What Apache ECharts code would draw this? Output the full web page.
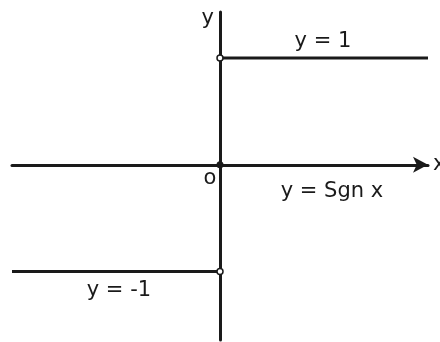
<!DOCTYPE html>
<html>
<head>
<meta charset="utf-8">
<script src="https://cdn.jsdelivr.net/npm/echarts@6/dist/echarts.min.js"></script>
<style>
  html, body { margin: 0; padding: 0; background: #fff; }
  #chart { width: 440px; height: 342px; }
</style>
</head>
<body>
<div id="chart"></div>
<script>
// sgn x: the two horizontal pieces
const upperPiece = [[0, 1], [1, 1]];
const lowerPiece = [[-1, -1], [0, -1]];
// endpoints: open at x = 0 for both pieces, filled at the origin
const openPoints = [[0, 1], [0, -1]];
const filledPoints = [[0, 0]];
// annotations [x, y, text]
const notes = [
    [0.495, 1.15, 'y = 1'],
    [0.538, -0.252, 'y = Sgn x'],
    [-0.048, -0.125, 'o'],
    [-0.486, -1.178, 'y = -1']
];

const ink = '#1a1a1a';
const font = 'DejaVu Sans';
const chart = echarts.init(document.getElementById('chart'));

chart.setOption({
    animation: false,
    grid: { left: 12, right: 12, top: 12, bottom: 2, outerBoundsMode: 'none', containLabel: false },
    xAxis: {
        type: 'value',
        min: -1,
        max: 1,
        name: 'x',
        nameGap: 5,
        nameTextStyle: { fontFamily: font, fontSize: 21, color: ink },
        axisLine: {
            onZero: true,
            symbol: ['none', 'arrow'],
            symbolSize: [12, 15],
            lineStyle: { color: ink, width: 3 }
        },
        axisTick: { show: false },
        axisLabel: { show: false },
        splitLine: { show: false }
    },
    yAxis: {
        type: 'value',
        min: -1.64,
        max: 1.43,
        name: 'y',
        nameLocation: 'end',
        nameGap: 4,
        nameTextStyle: {
            fontFamily: font, fontSize: 21, color: ink,
            align: 'right', verticalAlign: 'top', padding: [0, 6, 0, 0]
        },
        axisLine: { onZero: true, lineStyle: { color: ink, width: 3 } },
        axisTick: { show: false },
        axisLabel: { show: false },
        splitLine: { show: false }
    },
    series: [
        {
            type: 'line', data: upperPiece, symbol: 'none',
            lineStyle: { color: ink, width: 3 }, z: 3
        },
        {
            type: 'line', data: lowerPiece, symbol: 'none',
            lineStyle: { color: ink, width: 3 }, z: 3
        },
        {
            type: 'scatter', data: openPoints, symbol: 'circle', symbolSize: 6,
            itemStyle: { color: '#fff', borderColor: ink, borderWidth: 1.5, opacity: 1 }, z: 5
        },
        {
            type: 'scatter', data: filledPoints, symbol: 'circle', symbolSize: 7,
            itemStyle: { color: ink, opacity: 1 }, z: 5
        },
        {
            type: 'scatter',
            data: notes.map(n => ({ value: [n[0], n[1]], name: n[2] })),
            symbolSize: 0,
            silent: true,
            itemStyle: { opacity: 1 },
            label: {
                show: true,
                position: 'inside',
                formatter: p => p.name,
                fontFamily: font,
                fontSize: 21,
                color: ink
            },
            z: 6
        }
    ]
});
</script>
</body>
</html>
